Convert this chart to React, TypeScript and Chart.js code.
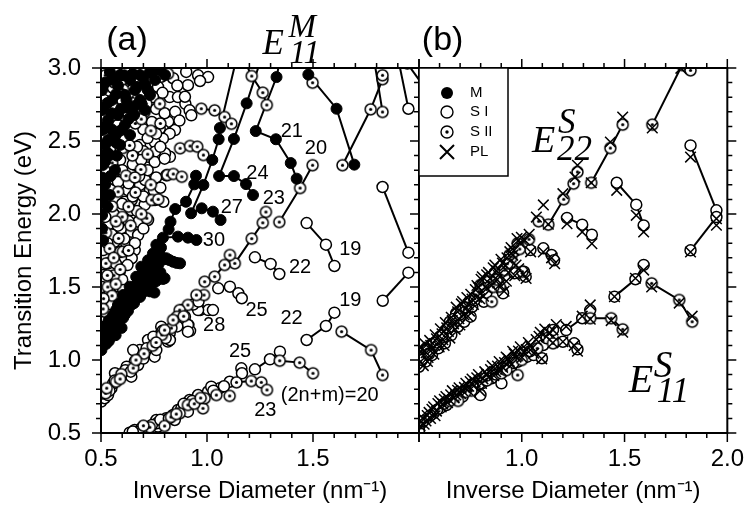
import React, { useEffect, useRef } from "react";
import { Chart, registerables } from "chart.js";

Chart.register(...registerables);

type P = [number, number];

// ---------------- axes ----------------
const xRange: P = [0.5, 2.0];
const yRange: P = [0.5, 3.0];
const xTickLabelsA = [0.5, 1.0, 1.5];
const xTickLabelsB = [1.0, 1.5, 2.0];
const yTickLabels = [0.5, 1.0, 1.5, 2.0, 2.5, 3.0];
const xTitle = "Inverse Diameter (nm\u207B\u00B9)";
const yTitle = "Transition Energy (eV)";

// ---------------- panel (a) : metallic (filled) families, connected ----------------
const aM18: P[] = [[1.478, 2.955], [1.611, 2.721], [1.695, 2.338]];
const aM21: P[] = [[1.345, 3.06], [1.328, 2.938], [1.23, 2.568], [1.325, 2.512], [1.395, 2.349], [1.423, 2.242]];
const aM24: P[] = [[1.25, 3.04], [1.187, 2.758], [1.127, 2.514], [1.057, 2.26], [1.127, 2.26], [1.184, 2.205], [1.217, 2.13]];
const aM27: P[] = [[1.135, 3.04], [1.061, 2.589], [1.055, 2.512], [1.025, 2.37], [0.983, 2.199], [0.925, 2.005], [0.975, 2.039], [1.028, 2.016], [1.064, 1.959]];
const aM30: P[] = [[0.948, 2.262], [0.94, 2.203], [0.901, 2.084], [0.85, 2.034], [0.828, 1.947], [0.819, 1.895], [0.792, 1.838], [0.863, 1.845], [0.91, 1.838], [0.95, 1.822]];
// metallic E11 dense band (large diameters)
const aMband: P[] = [
  [0.509, 1.194], [0.533, 1.24], [0.557, 1.308], [0.58, 1.377], [0.604, 1.445], [0.635, 1.502], [0.666, 1.57], [0.69, 1.639], [0.722, 1.683], [0.745, 1.729], [0.761, 1.789],
  [0.778, 1.719], [0.808, 1.697], [0.84, 1.673], [0.873, 1.662],
  [0.503, 1.137], [0.524, 1.185], [0.552, 1.24], [0.58, 1.295], [0.608, 1.356], [0.637, 1.411], [0.665, 1.466], [0.693, 1.521], [0.722, 1.575], [0.745, 1.616], [0.769, 1.575], [0.792, 1.555],
  [0.502, 1.068], [0.524, 1.11], [0.547, 1.158], [0.575, 1.219], [0.604, 1.288], [0.627, 1.336], [0.656, 1.39], [0.684, 1.432], [0.708, 1.479], [0.731, 1.47], [0.752, 1.462],
  [0.515, 1.16], [0.54, 1.205], [0.566, 1.262], [0.59, 1.33], [0.62, 1.392], [0.648, 1.44], [0.678, 1.503], [0.703, 1.592], [0.735, 1.64], [0.512, 1.102], [0.536, 1.27], [0.571, 1.342], [0.598, 1.4], [0.641, 1.458], [0.674, 1.535], [0.712, 1.62], [0.757, 1.668],
  [0.506, 1.21], [0.518, 1.23], [0.528, 1.16], [0.537, 1.13], [0.544, 1.25], [0.556, 1.2], [0.562, 1.29], [0.569, 1.17], [0.577, 1.25], [0.585, 1.36], [0.593, 1.28], [0.597, 1.22],
  [0.612, 1.31], [0.616, 1.42], [0.624, 1.36], [0.631, 1.46], [0.645, 1.38], [0.652, 1.5], [0.659, 1.42], [0.668, 1.51], [0.683, 1.47], [0.687, 1.58], [0.697, 1.49], [0.716, 1.55],
  [0.726, 1.66], [0.739, 1.59], [0.748, 1.7], [0.753, 1.6], [0.766, 1.74], [0.772, 1.66], [0.783, 1.77], [0.787, 1.7], [0.797, 1.69], [0.822, 1.685], [0.857, 1.665], [0.8, 1.56],
  [0.768, 1.56], [0.717, 1.51], [0.738, 1.52], [0.725, 1.5], [0.745, 1.53], [0.76, 1.54], [0.705, 1.52], [0.695, 1.46], [0.672, 1.45], [0.66, 1.46], [0.63, 1.4], [0.78, 1.6],
];
// metallic E22 (top-left dark region)
const aM22: P[] = [
  [0.778, 2.986], [0.731, 2.973], [0.684, 2.952], [0.755, 2.918], [0.708, 2.884], [0.66, 2.849], [0.613, 2.815], [0.637, 2.918], [0.59, 2.952], [0.542, 2.973],
  [0.731, 2.815], [0.684, 2.781], [0.627, 2.726], [0.58, 2.678], [0.533, 2.644], [0.656, 2.678], [0.613, 2.61], [0.566, 2.541], [0.519, 2.473], [0.59, 2.473],
  [0.542, 2.404], [0.509, 2.336], [0.566, 2.301], [0.519, 2.199], [0.509, 2.096], [0.542, 2.13], [0.505, 1.993], [0.802, 2.952], [0.708, 2.712], [0.637, 2.541],
  [0.552, 2.781], [0.505, 2.849], [0.505, 2.712], [0.505, 2.575], [0.533, 2.507], [0.505, 1.9], [0.51, 1.82],
  [0.52, 2.9], [0.55, 2.92], [0.58, 2.88], [0.61, 2.95], [0.65, 2.96], [0.7, 2.93], [0.745, 2.98], [0.67, 2.87], [0.72, 2.85], [0.62, 2.78],
  [0.57, 2.82], [0.53, 2.76], [0.66, 2.74], [0.595, 2.72], [0.55, 2.69], [0.69, 2.76], [0.6, 2.58], [0.63, 2.65], [0.52, 2.6], [0.57, 2.49],
  [0.55, 2.58], [0.53, 2.42], [0.575, 2.4], [0.52, 2.36], [0.545, 2.26], [0.53, 2.05], [0.515, 2.14], [0.505, 2.25], [0.505, 2.4],
];

// ---------------- panel (a) : type II (dotted) families, connected ----------------
const aS17: P[] = [[1.639, 2.334], [1.772, 2.717], [1.828, 2.923], [1.828, 2.95]];
const aS17b: P[] = [[1.79, 3.04], [1.828, 2.699]];
const aSp1: P[] = [[1.18, 3.04], [1.211, 2.945], [1.263, 2.831], [1.282, 2.747]];
const aS20e22: P[] = [[1.341, 1.945], [1.439, 2.178], [1.498, 2.334]];
const aS23e22: P[] = [[1.278, 2.014], [1.263, 1.94], [1.211, 1.831], [1.131, 1.662]];
const aS26e22: P[] = [[1.108, 1.719], [1.083, 1.651], [1.036, 1.571], [0.989, 1.536]];
const aS29e22: P[] = [[0.986, 1.445], [0.95, 1.445], [0.91, 1.377], [0.871, 1.342]];
const aSt1: P[] = [[0.973, 2.721], [1.036, 2.71], [1.083, 2.664], [1.115, 2.618]];
const aSt2: P[] = [[0.873, 2.45], [0.92, 2.466], [0.954, 2.461], [0.983, 2.404]];
const aSt3: P[] = [[0.813, 2.267], [0.841, 2.274], [0.881, 2.255]];
const aS20e11: P[] = [[1.635, 1.194], [1.774, 1.068], [1.828, 0.897]];
const aS23e11: P[] = [[1.343, 0.995], [1.437, 0.982], [1.5, 0.909]];
const aS26e11: P[] = [[1.139, 0.847], [1.209, 0.856], [1.256, 0.847], [1.283, 0.795]];
const aSIIlone: P[] = [[1.498, 2.899]];
const aSIIcloud: P[] = [
  [0.73, 2.938], [0.816, 2.961], [0.714, 2.755], [0.777, 2.755], [0.706, 2.699], [0.739, 2.096], [0.77, 2.101], [0.716, 1.971],
  [0.52, 2.95], [0.563, 2.9], [0.604, 2.853], [0.551, 2.748], [0.622, 2.703], [0.662, 2.62], [0.572, 2.56], [0.603, 2.452], [0.648, 2.4],
  [0.553, 2.35], [0.618, 2.262], [0.688, 2.305], [0.581, 2.152], [0.662, 2.148], [0.552, 2.052], [0.6, 1.98], [0.523, 1.872], [0.583, 1.833],
  [0.541, 1.763], [0.603, 1.742], [0.523, 1.662], [0.561, 1.58], [0.532, 1.5], [0.552, 1.44], [0.512, 1.42],
  [0.6, 2.92], [0.65, 2.8], [0.69, 2.65], [0.735, 2.57], [0.78, 2.62], [0.72, 2.41], [0.635, 2.47], [0.66, 2.25], [0.735, 2.2], [0.63, 2.05],
  [0.69, 2.0], [0.57, 1.95], [0.64, 1.92], [0.56, 1.7], [0.63, 1.75], [0.59, 1.62], [0.53, 1.58], [0.57, 1.52], [0.51, 1.35],
];
const aSIIband22: P[] = [
  [0.522, 0.772], [0.571, 0.851], [0.596, 0.903], [0.652, 0.945], [0.703, 1.043], [0.744, 1.098], [0.787, 1.172], [0.832, 1.219], [0.858, 1.296],
  [0.84, 1.274], [0.8, 1.205], [0.527, 0.807], [0.59, 0.87], [0.665, 1.0], [0.76, 1.12], [0.89, 1.3],
];
const aSIIband11: P[] = [
  [0.73, 0.539], [0.8, 0.548], [0.871, 0.635], [0.91, 0.692], [0.981, 0.669], [0.989, 0.738], [1.044, 0.76], [1.107, 0.754], [0.94, 0.7], [0.83, 0.61],
  [0.7, 0.55], [0.855, 0.63], [0.97, 0.74],
];

// ---------------- panel (a) : type I (open) families ----------------
const aS16e22: P[] = [[1.828, 2.185], [1.95, 1.735]];
const aS19e22: P[] = [[1.47, 1.938], [1.561, 1.79], [1.601, 1.644]];
const aS22e22: P[] = [[1.226, 1.703], [1.3, 1.658], [1.341, 1.589]];
const aS19e11: P[] = [[1.47, 1.137], [1.561, 1.233], [1.601, 1.324]];
const aS22e11: P[] = [[1.226, 0.936], [1.297, 1.005], [1.344, 1.057]];
const aS16e11: P[] = [[1.829, 1.406], [1.95, 1.598]];
const aStop1: P[] = [[1.905, 3.04], [1.95, 2.721]];
const aStop2: P[] = [[1.945, 3.03], [2.06, 2.8]];
const aS25e22: P[] = [[1.053, 1.491], [1.108, 1.502], [1.148, 1.457], [1.164, 1.423]];
const aS28e22: P[] = [[0.967, 1.342], [1.006, 1.342], [0.912, 1.24], [0.92, 1.2], [0.896, 1.297]];
const aS25e11: P[] = [[1.107, 0.851], [1.162, 0.943], [1.165, 0.909]];
const aSIcloud: P[] = [
  [0.769, 2.87], [0.902, 2.973], [0.91, 2.882], [0.958, 2.95], [1.005, 2.938], [0.824, 2.801], [0.863, 2.801], [0.898, 2.755], [0.918, 2.71], [0.926, 2.676],
  [0.967, 2.911], [0.896, 2.803], [0.817, 2.632], [0.794, 2.575], [0.849, 2.575], [0.777, 2.584], [0.824, 2.55], [0.792, 2.516], [0.753, 2.493],
  [0.825, 2.392], [0.802, 2.416], [0.755, 2.427], [0.723, 2.392], [0.753, 2.356], [0.8, 2.379], [0.808, 2.265], [0.684, 2.199], [0.755, 2.096],
  [0.794, 2.084], [0.645, 2.096], [0.676, 1.947], [0.517, 2.096], [0.612, 2.084], [0.706, 2.062], [0.643, 2.027], [0.722, 1.959], [0.533, 1.925],
  [0.596, 1.902], [0.643, 1.879], [0.675, 1.856], [0.565, 1.81], [0.619, 1.799], [0.659, 1.753], [0.565, 1.719], [0.612, 1.697], [0.549, 1.628],
  [0.588, 1.605], [0.533, 1.56], [0.572, 1.514], [0.517, 1.468], [0.549, 1.423], [0.517, 1.377], [0.511, 1.753], [0.534, 1.662], [0.645, 1.697],
  [0.511, 1.582], [0.582, 1.502], [0.708, 2.233], [0.731, 2.164], [0.627, 2.164], [0.566, 2.233], [0.519, 2.301], [0.59, 2.37], [0.66, 2.336],
  [0.542, 2.438], [0.613, 2.507], [0.684, 2.473], [0.519, 2.589], [0.58, 2.61], [0.637, 2.658], [0.542, 2.712], [0.599, 2.781], [0.514, 2.781],
  [0.557, 2.863], [0.613, 2.904], [0.67, 2.932], [0.514, 2.918], [0.566, 2.973], [0.623, 2.986],
  [0.785, 2.94], [0.84, 2.93], [0.86, 2.88], [0.79, 2.83], [0.745, 2.8], [0.76, 2.72], [0.8, 2.69], [0.85, 2.7], [0.87, 2.64], [0.74, 2.63],
  [0.7, 2.58], [0.72, 2.52], [0.76, 2.55], [0.78, 2.46], [0.7, 2.43], [0.67, 2.46], [0.65, 2.34], [0.69, 2.37], [0.72, 2.3], [0.76, 2.25],
  [0.68, 2.26], [0.63, 2.21], [0.6, 2.3], [0.58, 2.22], [0.65, 2.12], [0.7, 2.12], [0.75, 2.16], [0.78, 2.18], [0.6, 2.07], [0.67, 2.02],
  [0.56, 2.0], [0.58, 1.92], [0.63, 1.95], [0.7, 1.9], [0.52, 1.98], [0.55, 1.86], [0.61, 1.83], [0.66, 1.8], [0.53, 1.8], [0.59, 1.74],
  [0.625, 1.65], [0.6, 1.55], [0.57, 1.66], [0.52, 1.54], [0.54, 1.47], [0.505, 1.5], [0.505, 1.3], [0.52, 1.33], [0.55, 1.38], [0.58, 1.43], [0.605, 1.48],
];
const aSIband22: P[] = [
  [0.501, 0.715], [0.517, 0.738], [0.533, 0.76], [0.549, 0.807], [0.557, 0.84], [0.58, 0.875], [0.604, 0.897], [0.643, 0.886], [0.635, 0.932],
  [0.675, 0.966], [0.659, 0.989], [0.69, 1.023], [0.683, 1.068], [0.73, 1.091], [0.737, 1.114], [0.753, 1.023], [0.761, 1.068], [0.722, 1.137],
  [0.777, 1.171], [0.784, 1.228], [0.816, 1.126], [0.824, 1.183], [0.848, 1.274], [0.871, 1.251], [0.91, 1.24], [0.91, 1.194], [0.566, 0.909],
  [0.621, 0.954], [0.652, 1.068], [0.747, 1.16], [0.825, 1.137], [0.881, 1.342], [0.958, 1.342], [1.028, 1.342],
  [0.505, 0.77], [0.54, 0.79], [0.565, 0.86], [0.615, 0.93], [0.64, 0.92], [0.7, 1.01], [0.715, 1.08], [0.79, 1.2], [0.805, 1.15], [0.86, 1.23], [0.935, 1.38], [0.96, 1.4],
];
const aSIband11: P[] = [
  [0.635, 0.502], [0.659, 0.521], [0.69, 0.532], [0.761, 0.589], [0.808, 0.601], [0.84, 0.623], [0.863, 0.658], [0.918, 0.726], [0.958, 0.715],
  [0.958, 0.76], [1.005, 0.784], [1.06, 0.807], [1.02, 0.817], [0.848, 0.589], [0.769, 0.544], [0.879, 0.669], [0.676, 0.509], [0.723, 0.532],
  [0.763, 0.566], [0.794, 0.577], [0.91, 0.646], [0.65, 0.51], [0.74, 0.555], [0.78, 0.59], [0.82, 0.6], [0.89, 0.7], [0.93, 0.72], [1.03, 0.79], [1.08, 0.82],
];

// ---------------- panel (b) ----------------
const bF1: P[] = [[1.635, 2.612], [1.78, 3.02]];
const bF2: P[] = [[1.338, 2.214], [1.431, 2.452], [1.491, 2.612]];
const bFg: P[] = [[1.129, 1.927], [1.204, 2.101], [1.252, 2.208], [1.271, 2.288]];
const bE11a: P[] = [[1.632, 1.525], [1.766, 1.411], [1.829, 1.262]];
const bE11b: P[] = [[1.333, 1.286], [1.435, 1.286], [1.491, 1.21]];
const bSIIlone: P[] = [[1.821, 2.984], [1.082, 1.95]];
const bF3: P[] = [[1.462, 2.214], [1.557, 2.064], [1.593, 1.922]];
const bF4: P[] = [[1.821, 2.47], [1.947, 2.025]];
const bF5: P[] = [[1.821, 1.751], [1.947, 1.979]];
const bF6: P[] = [[1.22, 1.973], [1.294, 1.927], [1.341, 1.858]];
const bF8: P[] = [[1.105, 1.765], [1.145, 1.719], [1.157, 1.683]];
const bE11c: P[] = [[1.451, 1.434], [1.553, 1.553], [1.593, 1.651]];
const bE11d: P[] = [[1.216, 1.205], [1.294, 1.286], [1.333, 1.342]];
const bE11e: P[] = [[1.2, 1.125], [1.255, 1.114], [1.271, 1.073]];
const bSIband22: P[] = [
  [0.5, 0.954], [0.508, 1.023], [0.532, 0.989], [0.539, 1.068], [0.563, 1.034], [0.571, 1.114], [0.594, 1.08], [0.602, 1.16], [0.626, 1.114],
  [0.634, 1.205], [0.657, 1.171], [0.65, 1.262], [0.681, 1.32], [0.689, 1.228], [0.712, 1.342], [0.72, 1.262], [0.744, 1.399], [0.751, 1.297],
  [0.759, 1.365], [0.791, 1.457], [0.815, 1.399], [0.901, 1.479], [0.909, 1.457], [0.964, 1.594], [1.011, 1.605], [1.019, 1.571], [1.042, 1.753],
  [0.515, 1.0], [0.548, 1.04], [0.585, 1.12], [0.615, 1.17], [0.642, 1.22], [0.668, 1.28], [0.698, 1.31], [0.728, 1.36], [0.77, 1.41], [0.828, 1.46],
];
const bSIIband22: P[] = [
  [0.799, 1.514], [0.838, 1.536], [0.869, 1.594], [0.917, 1.616], [0.948, 1.697], [0.98, 1.799], [1.035, 1.827], [0.94, 1.719], [1.003, 1.605],
  [0.893, 1.502], [0.854, 1.399], [0.862, 1.5], [0.878, 1.55], [0.93, 1.66], [0.96, 1.74], [0.99, 1.76],
];
const bSIband11: P[] = [
  [0.5, 0.52], [0.508, 0.566], [0.539, 0.6], [0.571, 0.635], [0.602, 0.669], [0.634, 0.692], [0.665, 0.738], [0.712, 0.749], [0.744, 0.806],
  [0.791, 0.772], [0.807, 0.84], [0.854, 0.875], [0.901, 0.84], [0.948, 0.954], [0.98, 0.988], [1.027, 1.023], [1.058, 1.034], [1.098, 1.012],
  [1.105, 1.103], [1.121, 1.149], [1.152, 1.205], [0.909, 0.943], [0.799, 0.76],
  [0.52, 0.58], [0.555, 0.62], [0.588, 0.66], [0.62, 0.7], [0.69, 0.77], [0.76, 0.83], [0.875, 0.9], [0.96, 0.98], [1.04, 1.06],
];
const bSIIband11: P[] = [
  [0.901, 0.909], [0.98, 0.897], [1.152, 1.114], [0.755, 0.79], [0.69, 0.72], [0.65, 0.72], [0.725, 0.78], [0.83, 0.86], [0.925, 0.93], [1.0, 1.0], [1.075, 1.08],
];
const bPLfam: P[] = [
  [1.635, 2.59], [1.774, 2.998], [1.338, 2.214], [1.431, 2.493], [1.491, 2.664], [1.462, 2.162], [1.557, 1.991], [1.593, 1.877], [1.821, 2.39],
  [1.947, 1.968], [1.821, 1.74], [1.947, 1.923], [1.22, 1.934], [1.294, 1.877], [1.341, 1.797], [1.105, 2.062], [1.2, 2.139], [1.259, 2.253],
  [1.271, 2.334], [1.071, 1.979], [1.129, 1.93], [1.105, 1.74], [1.145, 1.7], [1.16, 1.66],
  [1.451, 1.434], [1.553, 1.56], [1.593, 1.616], [1.632, 1.5], [1.766, 1.39], [1.829, 1.3], [1.216, 1.23], [1.294, 1.3], [1.333, 1.377],
  [1.333, 1.28], [1.435, 1.27], [1.491, 1.19], [1.2, 1.125], [1.255, 1.1], [1.271, 1.06],
];
const bPLband22: P[] = [
  [0.503, 1.088], [0.512, 1.046], [0.521, 0.962], [0.528, 1.112], [0.544, 1.018], [0.552, 1.134], [0.566, 1.076], [0.579, 1.172], [0.591, 1.118],
  [0.604, 1.214], [0.616, 1.139], [0.628, 1.256], [0.643, 1.196], [0.657, 1.293], [0.668, 1.248], [0.681, 1.362], [0.694, 1.283], [0.706, 1.384],
  [0.719, 1.309], [0.733, 1.428], [0.746, 1.335], [0.758, 1.417], [0.774, 1.482], [0.789, 1.497], [0.802, 1.553], [0.814, 1.437], [0.829, 1.584],
  [0.846, 1.558], [0.861, 1.631], [0.877, 1.612], [0.893, 1.514], [0.906, 1.664], [0.921, 1.648], [0.914, 1.471], [0.942, 1.742], [0.956, 1.718],
  [0.966, 1.578], [0.977, 1.832], [0.992, 1.801], [1.008, 1.588], [1.021, 1.559], [1.036, 1.861], [1.043, 1.741], [0.985, 1.625], [0.935, 1.6],
  [0.88, 1.55], [0.83, 1.49], [0.78, 1.43], [0.74, 1.38],
  [0.508, 0.99], [0.517, 1.075], [0.535, 1.05], [0.541, 0.99], [0.557, 1.1], [0.572, 1.04], [0.585, 1.145], [0.598, 1.09], [0.612, 1.18],
  [0.622, 1.1], [0.635, 1.22], [0.65, 1.15], [0.662, 1.27], [0.676, 1.21], [0.688, 1.33], [0.699, 1.24], [0.712, 1.4], [0.726, 1.35],
  [0.738, 1.3], [0.752, 1.45], [0.765, 1.38], [0.782, 1.51], [0.795, 1.42], [0.808, 1.57], [0.822, 1.5], [0.838, 1.6], [0.853, 1.51],
  [0.869, 1.65], [0.886, 1.58], [0.899, 1.69], [0.928, 1.7], [0.948, 1.77], [0.962, 1.75], [0.998, 1.84], [1.015, 1.82], [0.972, 1.65], [0.925, 1.54],
];
const bPLband11: P[] = [
  [0.505, 0.548], [0.518, 0.603], [0.534, 0.582], [0.549, 0.641], [0.563, 0.662], [0.578, 0.618], [0.592, 0.702], [0.608, 0.679], [0.623, 0.731],
  [0.639, 0.708], [0.654, 0.762], [0.671, 0.741], [0.688, 0.792], [0.703, 0.769], [0.721, 0.812], [0.736, 0.797], [0.749, 0.852], [0.766, 0.822],
  [0.781, 0.878], [0.796, 0.789], [0.811, 0.871], [0.829, 0.902], [0.848, 0.934], [0.864, 0.893], [0.882, 0.958], [0.899, 0.928], [0.916, 0.983],
  [0.931, 1.012], [0.949, 0.968], [0.963, 1.043], [0.984, 1.061], [1.001, 1.018], [1.022, 1.072], [1.041, 1.098], [1.058, 1.046], [1.084, 1.162],
  [1.097, 1.008], [1.112, 1.212], [1.134, 1.188], [1.151, 1.118], [1.168, 1.243], [1.152, 1.205],
  [0.51, 0.575], [0.525, 0.56], [0.54, 0.62], [0.556, 0.6], [0.571, 0.68], [0.585, 0.65], [0.6, 0.72], [0.615, 0.7], [0.631, 0.75],
  [0.646, 0.73], [0.662, 0.79], [0.679, 0.76], [0.695, 0.81], [0.712, 0.79], [0.728, 0.84], [0.742, 0.82], [0.758, 0.87], [0.773, 0.85],
  [0.789, 0.9], [0.804, 0.84], [0.82, 0.92], [0.838, 0.88], [0.856, 0.96], [0.873, 0.92], [0.89, 0.99], [0.907, 0.95], [0.924, 1.02],
  [0.94, 0.99], [0.956, 1.06], [0.972, 1.02], [0.993, 1.09], [1.012, 1.05], [1.032, 1.12], [1.05, 1.08], [1.07, 1.14], [1.09, 1.19], [1.12, 1.16],
];

// ---------------- text annotations (data coordinates) ----------------
const aNumLabels: { t: string; x: number; y: number }[] = [
  { t: "21", x: 1.4, y: 2.567 }, { t: "20", x: 1.514, y: 2.447 }, { t: "24", x: 1.238, y: 2.276 }, { t: "23", x: 1.315, y: 2.103 },
  { t: "27", x: 1.117, y: 2.045 }, { t: "30", x: 1.033, y: 1.816 }, { t: "19", x: 1.676, y: 1.757 }, { t: "22", x: 1.439, y: 1.637 },
  { t: "25", x: 1.234, y: 1.342 }, { t: "28", x: 1.034, y: 1.234 }, { t: "22", x: 1.399, y: 1.282 }, { t: "19", x: 1.676, y: 1.409 },
  { t: "25", x: 1.156, y: 1.055 }, { t: "(2n+m)=20", x: 1.579, y: 0.76 }, { t: "23", x: 1.275, y: 0.652 },
];

const SANS = '"Liberation Sans", Arial, Helvetica, sans-serif';
const SERIF = '"Liberation Serif", "Times New Roman", Times, serif';

const toXY = (arr: P[]) => arr.map(([x, y]) => ({ x, y }));

function makeDotted(r: number): HTMLCanvasElement {
  const s = Math.ceil(2 * r + 4);
  const c = document.createElement("canvas");
  c.width = s;
  c.height = s;
  const g = c.getContext("2d")!;
  g.beginPath();
  g.arc(s / 2, s / 2, r, 0, Math.PI * 2);
  g.fillStyle = "#fff";
  g.fill();
  g.lineWidth = 1.5;
  g.strokeStyle = "#000";
  g.stroke();
  g.beginPath();
  g.arc(s / 2, s / 2, 1.6, 0, Math.PI * 2);
  g.fillStyle = "#000";
  g.fill();
  return c;
}

function buildDatasets(lines: P[][], filled: P[][], open: P[][], dotted: P[][], crosses: P[][], dot: HTMLCanvasElement) {
  const ds: any[] = [];
  lines.forEach((l) =>
    ds.push({ data: toXY(l), showLine: true, borderColor: "#000", borderWidth: 2, pointRadius: 0, pointHoverRadius: 0, order: 10, clip: 0, tension: 0 })
  );
  ds.push({ label: "S I", data: toXY(open.flat()), pointStyle: "circle", pointRadius: 5.5, pointBackgroundColor: "#fff", pointBorderColor: "#000", pointBorderWidth: 1.5, order: 6, clip: 0 });
  ds.push({ label: "S II", data: toXY(dotted.flat()), pointStyle: dot, pointRadius: 5.5, order: 5, clip: 0 });
  ds.push({ label: "M", data: toXY(filled.flat()), pointStyle: "circle", pointRadius: 5.5, pointBackgroundColor: "#000", pointBorderColor: "#000", pointBorderWidth: 1, order: 4, clip: 0 });
  if (crosses.length)
    ds.push({ label: "PL", data: toXY(crosses.flat()), pointStyle: "crossRot", pointRadius: 7.5, pointBorderColor: "#000", pointBorderWidth: 1.5, order: 1, clip: 0 });
  return ds;
}

const framePlugin = (side: "a" | "b") => ({
  id: "frame-" + side,
  afterDatasetsDraw(chart: any) {
    const { ctx, chartArea: a } = chart;
    const xs = chart.scales.x;
    const ys = chart.scales.y;
    ctx.save();
    ctx.strokeStyle = "#000";
    ctx.lineWidth = 1.5;
    ctx.beginPath();
    for (let i = 5; i <= 20; i++) {
      const px = xs.getPixelForValue(i / 10);
      const L = i % 5 === 0 ? 9 : 5;
      ctx.moveTo(px, a.top);
      ctx.lineTo(px, a.top - L);
      ctx.moveTo(px, a.bottom);
      ctx.lineTo(px, a.bottom + L);
    }
    for (let i = 5; i <= 30; i++) {
      const py = ys.getPixelForValue(i / 10);
      const L = i % 5 === 0 ? 9 : 5;
      if (side === "a") {
        ctx.moveTo(a.left, py);
        ctx.lineTo(a.left - L, py);
        ctx.moveTo(a.right, py);
        ctx.lineTo(a.right - L, py);
      } else {
        ctx.moveTo(a.right, py);
        ctx.lineTo(a.right + L, py);
      }
    }
    ctx.stroke();
    ctx.lineWidth = 2;
    ctx.strokeRect(a.left, a.top, a.right - a.left, a.bottom - a.top);
    ctx.restore();
  },
});

function drawE(ctx: CanvasRenderingContext2D, px: number, py: number, fs: number, sup: string, sub: string, supFs: number, subFs: number, sdx: number, sdy: number, bdx: number, bdy: number) {
  ctx.textAlign = "left";
  ctx.textBaseline = "alphabetic";
  ctx.font = `italic ${fs}px ${SERIF}`;
  ctx.fillText("E", px, py);
  ctx.font = `italic ${supFs}px ${SERIF}`;
  ctx.fillText(sup, px + sdx, py + sdy);
  ctx.font = `italic ${subFs}px ${SERIF}`;
  ctx.fillText(sub, px + bdx, py + bdy);
}

const annotA = {
  id: "annotA",
  afterDraw(chart: any) {
    const { ctx } = chart;
    const xs = chart.scales.x;
    const ys = chart.scales.y;
    ctx.save();
    ctx.fillStyle = "#000";
    ctx.textAlign = "center";
    ctx.textBaseline = "middle";
    ctx.font = `20px ${SANS}`;
    aNumLabels.forEach((l) => ctx.fillText(l.t, xs.getPixelForValue(l.x), ys.getPixelForValue(l.y)));
    ctx.font = `34px ${SANS}`;
    ctx.fillText("(a)", xs.getPixelForValue(0.623), ys.getPixelForValue(3.185));
    drawE(ctx, xs.getPixelForValue(1.262), ys.getPixelForValue(3.096), 35, "M", "11", 33, 33, 26, -17, 27, 9);
    ctx.restore();
  },
};

const annotB = {
  id: "annotB",
  afterDraw(chart: any) {
    const { ctx, chartArea: a } = chart;
    const xs = chart.scales.x;
    const ys = chart.scales.y;
    ctx.save();
    ctx.fillStyle = "#000";
    ctx.textAlign = "center";
    ctx.textBaseline = "middle";
    ctx.font = `34px ${SANS}`;
    ctx.fillText("(b)", xs.getPixelForValue(0.615), ys.getPixelForValue(3.186));
    drawE(ctx, xs.getPixelForValue(1.05), ys.getPixelForValue(2.425), 38, "S", "22", 35, 35, 26, -19, 25, 8);
    drawE(ctx, xs.getPixelForValue(1.521), ys.getPixelForValue(0.781), 40, "S", "11", 37, 35, 25, -15, 28, 10);
    // legend box
    const L = a.left, T = a.top;
    ctx.fillStyle = "#fff";
    ctx.fillRect(L, T, 89, 108);
    ctx.strokeStyle = "#000";
    ctx.lineWidth = 1.5;
    ctx.strokeRect(L, T, 89, 108);
    const sx = L + 28;
    const rows = [T + 25, T + 44, T + 64, T + 84];
    ctx.beginPath();
    ctx.arc(sx, rows[0], 6, 0, Math.PI * 2);
    ctx.fillStyle = "#000";
    ctx.fill();
    ctx.beginPath();
    ctx.arc(sx, rows[1], 6, 0, Math.PI * 2);
    ctx.fillStyle = "#fff";
    ctx.fill();
    ctx.lineWidth = 1.4;
    ctx.stroke();
    ctx.beginPath();
    ctx.arc(sx, rows[2], 6, 0, Math.PI * 2);
    ctx.fill();
    ctx.stroke();
    ctx.beginPath();
    ctx.arc(sx, rows[2], 1.7, 0, Math.PI * 2);
    ctx.fillStyle = "#000";
    ctx.fill();
    ctx.lineWidth = 2;
    ctx.beginPath();
    ctx.moveTo(sx - 7, rows[3] - 7);
    ctx.lineTo(sx + 7, rows[3] + 7);
    ctx.moveTo(sx + 7, rows[3] - 7);
    ctx.lineTo(sx - 7, rows[3] + 7);
    ctx.stroke();
    ctx.fillStyle = "#000";
    ctx.font = `15px ${SANS}`;
    ctx.textAlign = "left";
    ctx.textBaseline = "middle";
    ["M", "S I", "S II", "PL"].forEach((t, i) => ctx.fillText(t, L + 51, rows[i]));
    ctx.restore();
  },
};

function xScale(ticks: number[]) {
  return {
    type: "linear",
    min: xRange[0],
    max: xRange[1],
    position: "bottom",
    grid: { display: false, drawTicks: false },
    border: { display: false },
    afterBuildTicks: (s: any) => {
      s.ticks = ticks.map((v) => ({ value: v }));
    },
    afterFit: (s: any) => {
      s.height = 73;
    },
    ticks: {
      padding: 12,
      color: "#000",
      font: { family: SANS, size: 24, lineHeight: 1.2 },
      maxRotation: 0,
      autoSkip: false,
      callback: (v: any) => Number(v).toFixed(1),
    },
    title: { display: true, text: xTitle, color: "#000", font: { family: SANS, size: 24, lineHeight: 1.2 }, padding: { top: 0, bottom: 0 } },
  };
}

export default function App() {
  const refA = useRef<HTMLCanvasElement>(null);
  const refB = useRef<HTMLCanvasElement>(null);

  useEffect(() => {
    const dot = makeDotted(5.5);
    const dsA = buildDatasets(
      [aM18, aM21, aM24, aM27, aM30, aS17, aS17b, aSp1, aS20e22, aS23e22, aS26e22, aS29e22, aSt1, aSt2, aSt3, aS20e11, aS23e11, aS26e11,
        aS16e22, aS19e22, aS22e22, aS19e11, aS22e11, aS16e11, aStop1, aStop2],
      [aM18, aM21, aM24, aM27, aM30, aMband, aM22],
      [aS16e22, aS19e22, aS22e22, aS19e11, aS22e11, aS16e11, aStop1, aStop2, aS25e22, aS28e22, aS25e11, aSIcloud, aSIband22, aSIband11],
      [aS17, aS17b, aSp1, aS20e22, aS23e22, aS26e22, aS29e22, aSt1, aSt2, aSt3, aS20e11, aS23e11, aS26e11, aSIIlone, aSIIcloud, aSIIband22, aSIIband11],
      [],
      dot
    );
    const dsB = buildDatasets(
      [bF1, bF2, bFg, bE11a, bE11b, bF3, bF4, bF5, bF6, bF8, bE11c, bE11d, bE11e],
      [],
      [bF3, bF4, bF5, bF6, bF8, bE11c, bE11d, bE11e, bSIband22, bSIband11],
      [bF1, bF2, bFg, bE11a, bE11b, bSIIlone, bSIIband22, bSIIband11],
      [bPLfam, bPLband22, bPLband11],
      dot
    );

    const chartA = new Chart(refA.current!, {
      type: "scatter",
      data: { datasets: dsA },
      options: {
        responsive: false,
        animation: false,
        events: [],
        layout: { padding: { left: 0, top: 68, right: 337, bottom: 0 } },
        plugins: { legend: { display: false }, tooltip: { enabled: false } },
        scales: {
          x: xScale(xTickLabelsA) as any,
          y: {
            type: "linear",
            min: yRange[0],
            max: yRange[1],
            position: "left",
            grid: { display: false, drawTicks: false },
            border: { display: false },
            afterBuildTicks: (s: any) => {
              s.ticks = yTickLabels.map((v) => ({ value: v }));
            },
            afterFit: (s: any) => {
              s.width = 101;
            },
            ticks: { padding: 20, color: "#000", font: { family: SANS, size: 24, lineHeight: 1.2 }, callback: (v: any) => Number(v).toFixed(1) },
            title: { display: true, text: yTitle, color: "#000", font: { family: SANS, size: 24, lineHeight: 1.2 }, padding: { top: 10, bottom: 0 } },
          },
        },
      } as any,
      plugins: [framePlugin("a"), annotA],
    });

    const chartB = new Chart(refB.current!, {
      type: "scatter",
      data: { datasets: dsB },
      options: {
        responsive: false,
        animation: false,
        events: [],
        layout: { padding: { left: 419, top: 68, right: 19, bottom: 0 } },
        plugins: { legend: { display: false }, tooltip: { enabled: false } },
        scales: {
          x: xScale(xTickLabelsB) as any,
          y: { type: "linear", min: yRange[0], max: yRange[1], display: false },
        },
      } as any,
      plugins: [framePlugin("b"), annotB],
    });

    return () => {
      chartA.destroy();
      chartB.destroy();
    };
  }, []);

  return (
    <div style={{ position: "fixed", left: 0, top: 0, width: 756, height: 506, background: "#fff" }}>
      <canvas ref={refA} width={756} height={506} style={{ position: "absolute", left: 0, top: 0, width: 756, height: 506 }} />
      <canvas ref={refB} width={756} height={506} style={{ position: "absolute", left: 0, top: 0, width: 756, height: 506 }} />
    </div>
  );
}
